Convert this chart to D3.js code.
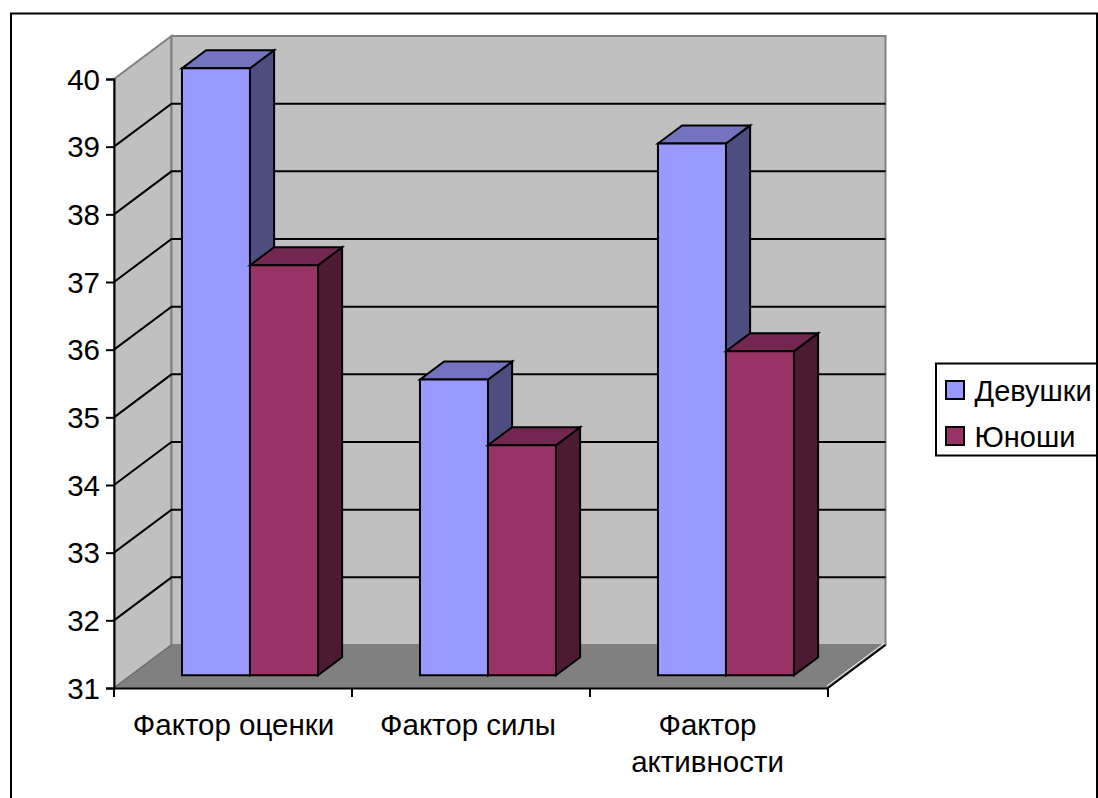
<!DOCTYPE html>
<html>
<head>
<meta charset="utf-8">
<script src="https://cdnjs.cloudflare.com/ajax/libs/d3/7.8.5/d3.min.js"></script>
<style>
  html, body { margin: 0; padding: 0; background: #fff; }
  svg { display: block; }
  text { font-family: "Liberation Sans", Arial, sans-serif; font-size: 29.5px; fill: #000; }
</style>
</head>
<body>
<div id="chart"></div>
<script>
var categories = ["Фактор оценки", "Фактор силы", "Фактор активности"];
var categoryLines = [["Фактор оценки"], ["Фактор силы"], ["Фактор", "активности"]];
var seriesNames = ["Девушки", "Юноши"];
var girls = [39.97, 35.37, 38.86];
var boys = [37.06, 34.4, 35.79];
var yTicks = [31, 32, 33, 34, 35, 36, 37, 38, 39, 40];

var frontColors = ["#9999ff", "#993366"];
var topColors = ["#7373bf", "#732650"];
var sideColors = ["#4d4d80", "#4d1a33"];

var width = 1098, height = 798;

var svg = d3.select("#chart").append("svg")
    .attr("width", width)
    .attr("height", height);

// outer frame
svg.append("rect")
    .attr("x", 11).attr("y", 13.5)
    .attr("width", 1086).attr("height", 800)
    .attr("fill", "#fff").attr("stroke", "#000").attr("stroke-width", 2);

var x = d3.scaleBand().domain(categories).range([114, 828]);
var y = d3.scaleLinear().domain([31, 40]).range([688, 79]);

// fake 3d: depth runs 0..1 from the front plane to the back wall
var depthX = 57.5, depthY = -43;
function pt(px, py, depth) {
    return [px + depthX * depth, py + depthY * depth];
}
function poly(points) {
    return d3.line()(points) + "Z";
}

var x0 = x.range()[0], x1 = x.range()[1];
var yBottom = y(31), yTop = y(40);

// walls and floor
svg.append("path")
    .attr("d", poly([pt(x0, yTop, 0), pt(x0, yTop, 1), pt(x0, yBottom, 1), pt(x0, yBottom, 0)]))
    .attr("fill", "#c0c0c0").attr("stroke", "#808080").attr("stroke-width", 2);
svg.append("path")
    .attr("d", poly([pt(x0, yTop, 1), pt(x1, yTop, 1), pt(x1, yBottom, 1), pt(x0, yBottom, 1)]))
    .attr("fill", "#c0c0c0").attr("stroke", "#808080").attr("stroke-width", 2);
svg.append("path")
    .attr("d", poly([pt(x0, yBottom, 0), pt(x0, yBottom, 1), pt(x1, yBottom, 1), pt(x1, yBottom, 0)]))
    .attr("fill", "#808080").attr("stroke", "#808080").attr("stroke-width", 1);

// gridlines on side wall and back wall
var gridTicks = yTicks.filter(function (d) { return d > 31 && d < 40; });
svg.append("g").selectAll("path")
    .data(gridTicks)
    .enter().append("path")
    .attr("d", function (d) {
        return d3.line()([pt(x0, y(d), 0), pt(x0, y(d), 1), pt(x1, y(d), 1)]);
    })
    .attr("fill", "none").attr("stroke", "#000").attr("stroke-width", 2);

// floor edges
svg.append("path")
    .attr("d", d3.line()([pt(x1, yBottom, 0), pt(x1, yBottom, 1)]))
    .attr("stroke", "#000").attr("stroke-width", 2);
svg.append("path")
    .attr("d", d3.line()([[x1 - 1, yBottom - 2], pt(x1 - 1, yBottom - 2, 1)]))
    .attr("stroke", "#fff").attr("stroke-width", 1);
svg.append("path")
    .attr("d", d3.line()([pt(x0, yBottom, 0), pt(x0, yBottom, 1)]))
    .attr("stroke", "#666").attr("stroke-width", 1);

// bars
var bars = [];
categories.forEach(function (c, i) {
    bars.push({ cat: c, s: 0, value: girls[i] });
    bars.push({ cat: c, s: 1, value: boys[i] });
});

var xInner = d3.scaleBand().domain([0, 1]).range([0, x.bandwidth() - 102]);
var barOffset = 51;
var dFront = 0.295, dBack = 0.715;

var barG = svg.append("g").selectAll("g")
    .data(bars)
    .enter().append("g");

function barBox(d) {
    var left = x(d.cat) + barOffset + xInner(d.s);
    return { l: left, r: left + xInner.bandwidth(), t: y(d.value), b: y(31) };
}

barG.append("path")
    .attr("d", function (d) {
        var b = barBox(d);
        return poly([pt(b.r, b.t, dFront), pt(b.r, b.t, dBack), pt(b.r, b.b, dBack), pt(b.r, b.b, dFront)]);
    })
    .attr("fill", function (d) { return sideColors[d.s]; });
barG.append("path")
    .attr("d", function (d) {
        var b = barBox(d);
        return poly([pt(b.l, b.t, dFront), pt(b.l, b.t, dBack), pt(b.r, b.t, dBack), pt(b.r, b.t, dFront)]);
    })
    .attr("fill", function (d) { return topColors[d.s]; });
barG.append("path")
    .attr("d", function (d) {
        var b = barBox(d);
        return poly([pt(b.l, b.t, dFront), pt(b.r, b.t, dFront), pt(b.r, b.b, dFront), pt(b.l, b.b, dFront)]);
    })
    .attr("fill", function (d) { return frontColors[d.s]; });
barG.selectAll("path")
    .attr("stroke", "#000").attr("stroke-width", 2).attr("stroke-linejoin", "miter");

// axes
var yAxis = d3.axisLeft(y).tickValues(yTicks).tickSize(8).tickPadding(6).tickFormat(d3.format("d"));
var yG = svg.append("g").attr("transform", "translate(" + x0 + ",0)").call(yAxis);
yG.selectAll(".tick text").attr("font-size", null).attr("font-family", null)
    .attr("x", -14).attr("dy", "0.35em");

var xAxis = d3.axisBottom(x).tickValues([]).tickSize(0);
var xG = svg.append("g").attr("transform", "translate(0," + yBottom + ")").call(xAxis);
[x0, x(categories[1]), x(categories[2]), x1].forEach(function (p) {
    xG.append("line").attr("x1", p).attr("x2", p).attr("y1", 0).attr("y2", 9)
        .attr("stroke", "#000");
});
svg.selectAll(".domain, .tick line").attr("stroke", "#000").attr("stroke-width", 2);
xG.selectAll("line").attr("stroke-width", 2);

// category labels, wrapped as in the source (left-to-right drift of about 2px per label there)
categories.forEach(function (c, i) {
    var t = svg.append("text")
        .attr("text-anchor", "middle");
    categoryLines[i].forEach(function (line, k) {
        t.append("tspan")
            .attr("x", x(c) + x.bandwidth() / 2 + (i === 0 ? 0.5 : i === 1 ? -3 : -1.5))
            .attr("y", 735 + k * 37)
            .text(line);
    });
});

// legend
var legendY = d3.scalePoint().domain(seriesNames).range([390, 436]);
svg.append("rect")
    .attr("x", 936).attr("y", 363.5).attr("width", 161).attr("height", 92)
    .attr("fill", "#fff").attr("stroke", "#000").attr("stroke-width", 2);
var leg = svg.append("g").selectAll("g")
    .data(seriesNames)
    .enter().append("g")
    .attr("transform", function (d) { return "translate(0," + legendY(d) + ")"; });
leg.append("rect")
    .attr("x", 946).attr("y", -9).attr("width", 18).attr("height", 18)
    .attr("fill", function (d, i) { return frontColors[i]; })
    .attr("stroke", "#000").attr("stroke-width", 2);
leg.append("text")
    .attr("x", 974.5).attr("y", 11)
    .style("font-size", "29px")
    .text(function (d) { return d; });
</script>
</body>
</html>
